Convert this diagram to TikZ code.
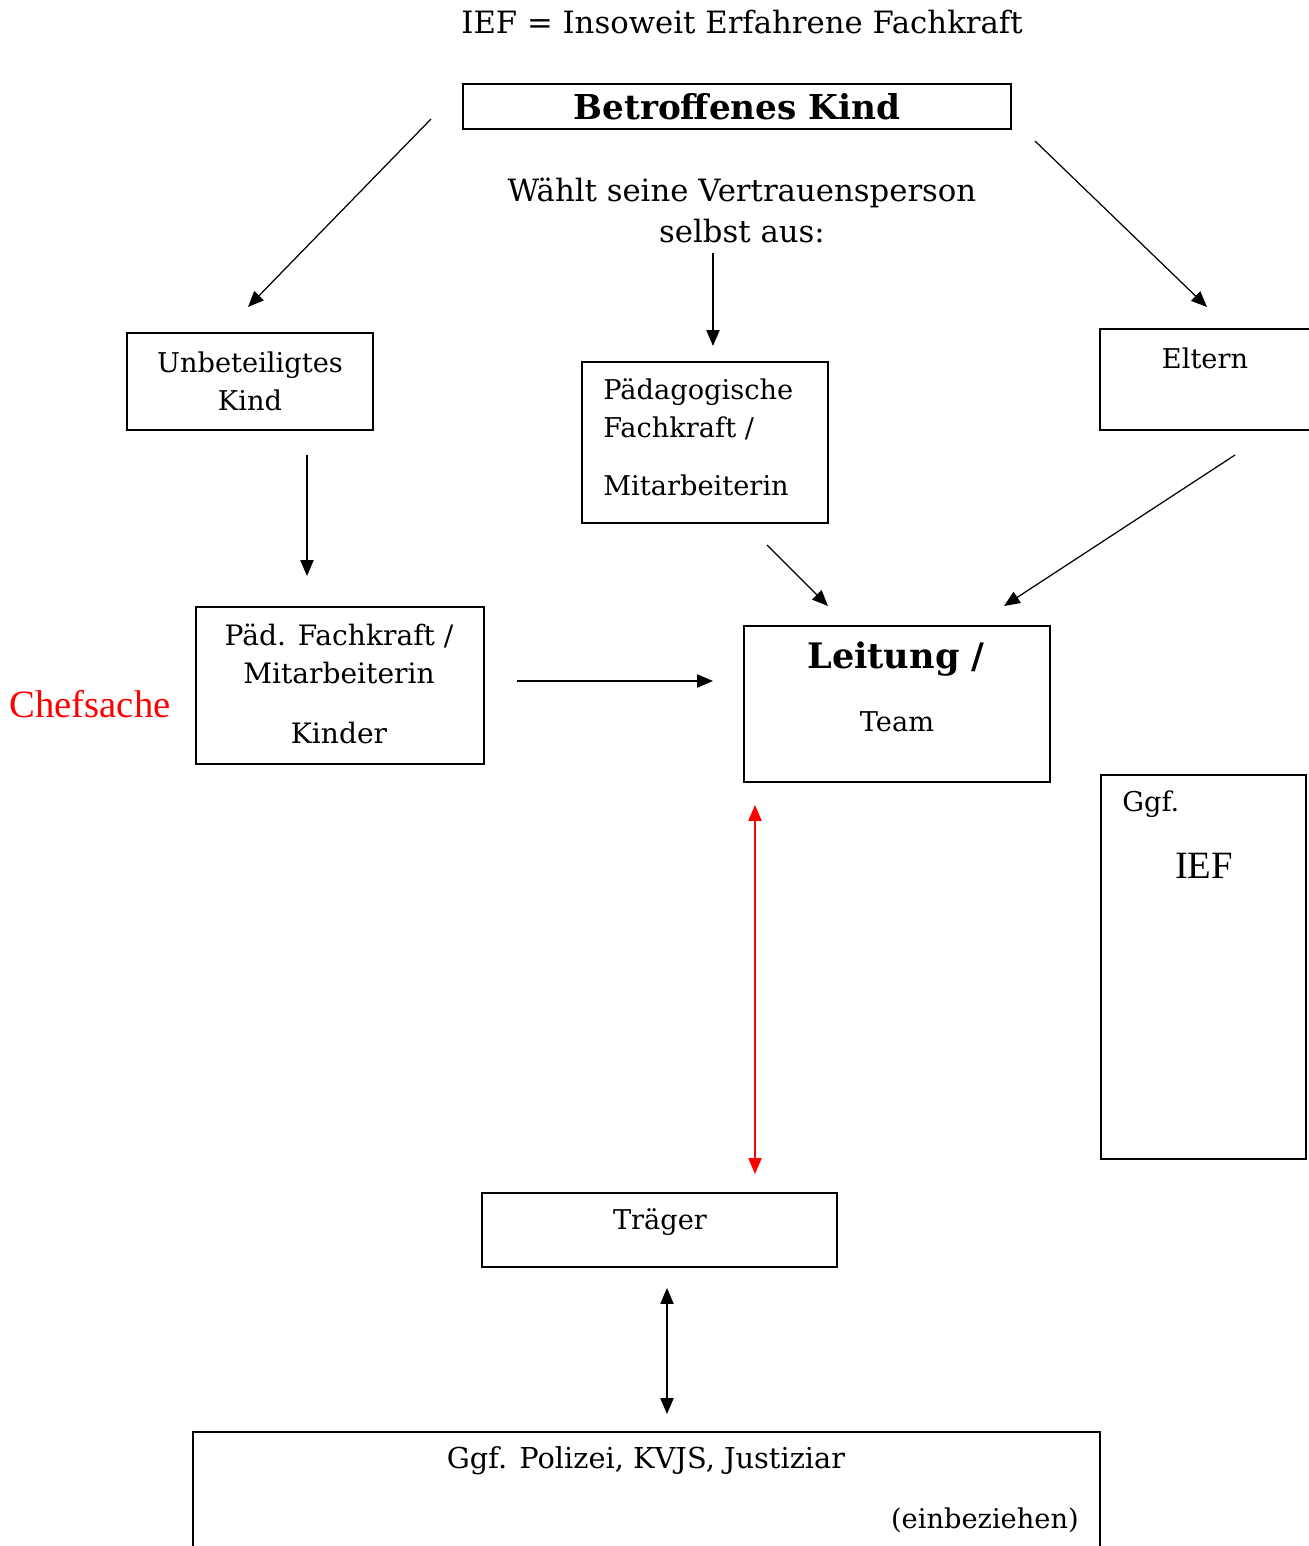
\documentclass[tikz,border=0pt]{standalone}
\usepackage{fontspec}
\setmainfont{DejaVu Serif}
\newfontfamily\timesfont{Liberation Serif}
\usetikzlibrary{arrows.meta}

\def\pxl{0.02cm}
\tikzset{
  box/.style={draw, line width=1.1pt, inner sep=0pt, align=center, font=\fontsize{15.5}{21.5}\selectfont},
  txt/.style={inner sep=0pt, align=center, font=\fontsize{15.5}{21.5}\selectfont},
  pfeil/.style={-{Triangle[length=9pt,width=7.5pt]}, line width=0.7pt},
  doppelpfeil/.style={{Triangle[length=9pt,width=7.5pt]}-{Triangle[length=9pt,width=7.5pt]}, line width=0.7pt}
}

\begin{document}
\begin{tikzpicture}[x=\pxl,y=-\pxl]
\useasboundingbox (0,0) rectangle (1309,1546);

% Kopf
\node[txt, font=\fontsize{17.5}{21}\selectfont] (legende) at (742,22) {IEF = Insoweit Erfahrene Fachkraft};
\node[box, minimum width=548*\pxl, minimum height=45*\pxl, font=\fontsize{19.5}{22}\selectfont\bfseries] (kind) at (737,106.5) {Betroffenes Kind};
\node[txt, font=\fontsize{17.5}{23}\selectfont] (waehlt) at (742,210.5) {Wählt seine Vertrauensperson\\selbst aus:};

% zweite Reihe
\node[box, minimum width=246*\pxl, minimum height=97*\pxl] (unbet) at (250,381.5) {Unbeteiligtes\\Kind};
\node[box, minimum width=246*\pxl, minimum height=161*\pxl] (paed) at (705,442.5) {};
\node[txt, align=left, anchor=west] (paedtext) at (603,437.5) {Pädagogische\\Fachkraft /\\[0.4cm]Mitarbeiterin};
\node[box, minimum width=220*\pxl, minimum height=101*\pxl] (eltern) at (1210,379.5) {};
\node[txt] (elterntext) at (1205,358) {Eltern};

% dritte Reihe
\node[txt, text=red, font=\timesfont\fontsize{22}{26}\selectfont] (chef) at (90,704) {Chefsache};
\node[box, minimum width=288*\pxl, minimum height=157*\pxl] (paedk) at (340,685.5) {};
\node[txt, font=\fontsize{16}{21.5}\selectfont] (paedktext) at (339,684) {Päd. Fachkraft /\\Mitarbeiterin\\[0.44cm]Kinder};
\node[box, minimum width=306*\pxl, minimum height=156*\pxl] (leitung) at (897,704) {};
\node[txt, font=\fontsize{20}{24}\selectfont\bfseries] (leitungtitel) at (896,659) {Leitung /};
\node[txt] (leitungteam) at (897,722) {Team};

% IEF rechts
\node[box, minimum width=205*\pxl, minimum height=384*\pxl] (iefbox) at (1203.5,967) {};
\node[txt, anchor=west] (ggf) at (1122,804) {Ggf.};
\node[txt, font=\timesfont\fontsize{22}{26}\selectfont] (ieftext) at (1204,866) {IEF};

% unten
\node[box, minimum width=355*\pxl, minimum height=74*\pxl] (traeger) at (659.5,1230) {};
\node[txt] (traegertext) at (660,1222) {Träger};
\node[box, minimum width=907*\pxl, minimum height=128*\pxl] (extern) at (646.5,1496) {};
\node[txt, font=\fontsize{16.4}{21.5}\selectfont] (externtext) at (646,1461) {Ggf. Polizei, KVJS, Justiziar};
\node[txt, anchor=east] (einbez) at (1079,1520) {(einbeziehen)};

% Pfeilenden
\coordinate (kindl) at (431,119);
\coordinate (unbeto) at (248,307);
\coordinate (kindr) at (1035,141);
\coordinate (eltero) at (1207,307);
\coordinate (waehltu) at (713,253);
\coordinate (paedo) at (713,346);
\coordinate (unbetu) at (307,455);
\coordinate (paedko) at (307,576);
\coordinate (paedu) at (767,545);
\coordinate (leitol) at (828,606);
\coordinate (elteru) at (1235,455);
\coordinate (leitor) at (1004,606);
\coordinate (paedkr) at (517,681);
\coordinate (leitl) at (713,681);
\coordinate (leitu) at (755,805);
\coordinate (traego) at (755,1174);
\coordinate (traegu) at (667,1288);
\coordinate (externo) at (667,1414);

\draw[pfeil] (kindl) -- (unbeto);
\draw[pfeil] (kindr) -- (eltero);
\draw[pfeil] (waehltu) -- (paedo);
\draw[pfeil] (unbetu) -- (paedko);
\draw[pfeil] (paedu) -- (leitol);
\draw[pfeil] (elteru) -- (leitor);
\draw[pfeil] (paedkr) -- (leitl);
\draw[doppelpfeil, red] (leitu) -- (traego);
\draw[doppelpfeil] (traegu) -- (externo);

\end{tikzpicture}
\end{document}
